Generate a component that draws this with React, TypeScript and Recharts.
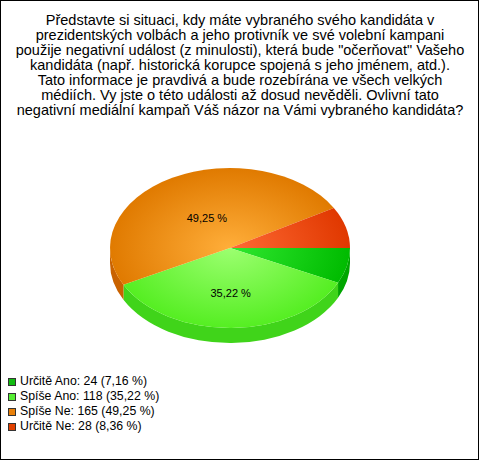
import React from 'react';
import { PieChart, Pie, Legend } from 'recharts';

const titleLines = [
  'Představte si situaci, kdy máte vybraného svého kandidáta v',
  'prezidentských volbách a jeho protivník ve své volební kampani',
  'použije negativní událost (z minulosti), která bude "očerňovat" Vašeho',
  'kandidáta (např. historická korupce spojená s jeho jménem, atd.).',
  'Tato informace je pravdivá a bude rozebírána ve všech velkých',
  'médiích. Vy jste o této události až dosud nevěděli. Ovlivní tato',
  'negativní mediální kampaň Váš názor na Vámi vybraného kandidáta?',
];

const categories = ['Určitě Ano', 'Spíše Ano', 'Spíše Ne', 'Určitě Ne'];
const counts = [24, 118, 165, 28];
const percentLabels = ['7,16', '35,22', '49,25', '8,36'];

const legendColors = ['#11bb11', '#55ee33', '#e8800a', '#e04000'];
const innerColors = ['#30e830', '#9cff70', '#ffae3a', '#ff6a35'];
const outerColors = ['#00bb00', '#55ee22', '#e07a00', '#e03800'];
const wallColors = ['#00a600', '#40d41a', '#c96200', '#b83000'];

const data = categories.map((name, i) => ({ name, value: counts[i], pct: percentLabels[i] }));

const RAD = Math.PI / 180;
const RY_RATIO = 80 / 120;
const DEPTH = 15;
const FONT = '"Liberation Sans", Arial, sans-serif';

function Slice3D(props: any) {
  const { cx, cy, outerRadius, startAngle, endAngle, index } = props;
  const rx = outerRadius;
  const ry = outerRadius * RY_RATIO;
  const pt = (a: number, dy = 0) => [cx + rx * Math.cos(a * RAD), cy - ry * Math.sin(a * RAD) + dy];
  const s = pt(startAngle);
  const e = pt(endAngle);
  const sweep = startAngle > endAngle ? 1 : 0;
  const large = Math.abs(endAngle - startAngle) > 180 ? 1 : 0;
  const topPath = `M${cx},${cy} L${s[0]},${s[1]} A${rx},${ry} 0 ${large} ${sweep} ${e[0]},${e[1]} Z`;

  const lo = Math.min(startAngle, endAngle);
  const hi = Math.max(startAngle, endAngle);
  const walls: string[] = [];
  for (const k of [-2, -1, 0, 1]) {
    const fLo = -180 + 360 * k;
    const fHi = 360 * k;
    const a1 = Math.max(lo, fLo);
    const a2 = Math.min(hi, fHi);
    if (a2 > a1) {
      const p1 = pt(a1);
      const p2 = pt(a2);
      const p1b = pt(a1, DEPTH);
      const p2b = pt(a2, DEPTH);
      walls.push(
        `M${p2[0]},${p2[1]} A${rx},${ry} 0 0 1 ${p1[0]},${p1[1]} L${p1b[0]},${p1b[1]} A${rx},${ry} 0 0 0 ${p2b[0]},${p2b[1]} Z`
      );
    }
  }
  const gid = `g3d${index}`;
  return (
    <g>
      <defs>
        <radialGradient
          id={gid}
          gradientUnits="userSpaceOnUse"
          cx={cx}
          cy={cy}
          r={rx}
          gradientTransform={`translate(${cx} ${cy}) scale(1 ${RY_RATIO}) translate(${-cx} ${-cy})`}
        >
          <stop offset="0%" stopColor={innerColors[index]} />
          <stop offset="100%" stopColor={outerColors[index]} />
        </radialGradient>
      </defs>
      {walls.map((w, i) => (
        <path key={i} d={w} fill={wallColors[index]} stroke="none" />
      ))}
      <path d={topPath} fill={`url(#${gid})`} stroke="none" />
    </g>
  );
}

function renderLabel(props: any) {
  const { cx, cy, midAngle, outerRadius, percent, index } = props;
  if (percent < 0.1) return null;
  const rx = outerRadius;
  const ry = outerRadius * RY_RATIO;
  const x = cx + rx * 0.4 * Math.cos(midAngle * RAD);
  const y = cy - ry * 0.5 * Math.sin(midAngle * RAD) + 5;
  return (
    <text x={x} y={y} textAnchor="middle" dominantBaseline="central" fontSize={11} fontFamily={FONT} fill="#000">
      {`${percentLabels[index]} %`}
    </text>
  );
}

function renderLegend() {
  return (
    <div style={{ fontFamily: FONT, fontSize: 12.3, color: '#000', textAlign: 'left' }}>
      {categories.map((c, i) => (
        <div key={c} style={{ height: 15, lineHeight: '15px', display: 'flex', alignItems: 'center' }}>
          <span
            style={{
              display: 'inline-block',
              width: 6,
              height: 6,
              background: legendColors[i],
              border: '1px solid #333',
              marginRight: 4,
            }}
          />
          <span>{`${c}: ${counts[i]} (${percentLabels[i]} %)`}</span>
        </div>
      ))}
    </div>
  );
}

export default function App() {
  return (
    <div
      style={{
        position: 'absolute',
        left: 0,
        top: 0,
        width: 479,
        height: 460,
        boxSizing: 'border-box',
        border: '1px solid #000',
        background: '#fff',
        fontFamily: FONT,
      }}
    >
      <div
        style={{
          position: 'absolute',
          left: -1,
          top: 12,
          width: 480,
          textAlign: 'center',
          fontSize: 14.5,
          lineHeight: '15px',
          color: '#000',
          whiteSpace: 'nowrap',
        }}
      >
        {titleLines.map((l, i) => (
          <div key={i}>{l}</div>
        ))}
      </div>
      <div style={{ position: 'absolute', left: -1, top: -1 }}>
        <PieChart width={479} height={460} margin={{ top: 0, right: 0, bottom: 0, left: 0 }}>
          <Pie
            data={data}
            dataKey="value"
            nameKey="name"
            cx={230}
            cy={248}
            outerRadius={120}
            startAngle={0}
            endAngle={-360}
            shape={Slice3D}
            label={renderLabel}
            labelLine={false}
            isAnimationActive={false}
          />
          <Legend
            layout="horizontal"
            verticalAlign="bottom"
            align="left"
            content={renderLegend}
            wrapperStyle={{ position: 'absolute', left: 8, top: 374, bottom: 'auto', width: 300 }}
          />
        </PieChart>
      </div>
    </div>
  );
}
